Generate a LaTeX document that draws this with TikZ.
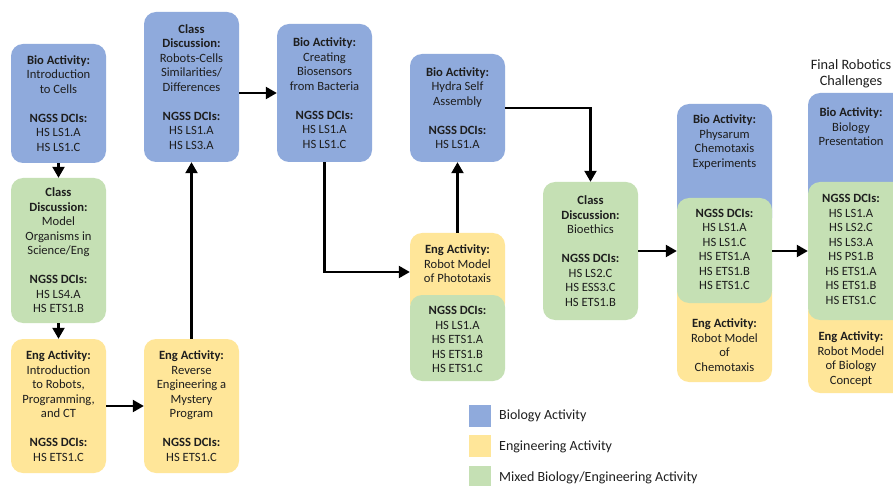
\documentclass[tikz,border=0pt]{standalone}
\usepackage{fontspec}
\setmainfont{Carlito}
\usetikzlibrary{arrows.meta}
\definecolor{bioc}{HTML}{8FAADC}
\definecolor{engc}{HTML}{FFE699}
\definecolor{mixc}{HTML}{C5E0B4}
\definecolor{txtc}{HTML}{1E1E1E}
\tikzset{
  box/.style={rounded corners=12pt, inner sep=0pt, minimum width=95pt, align=center, text=txtc, font=\fontsize{12.6}{14.5}\selectfont},
  layer/.style={rounded corners=12pt},
  txt/.style={inner sep=0pt, align=center, text=txtc, font=\fontsize{12.6}{14.5}\selectfont},
  ghost/.style={inner sep=0pt, minimum width=95pt},
  conn/.style={line width=2.2pt, -{Triangle[length=11pt,width=12pt]}},
  legsq/.style={inner sep=0pt, minimum width=22pt, minimum height=22pt},
  legtxt/.style={inner sep=0pt, anchor=west, text=txtc, font=\fontsize{14}{16}\selectfont}
}
\begin{document}
\begin{tikzpicture}[x=1pt,y=-1pt]
\useasboundingbox (0,0) rectangle (893,486);
\clip (0,0) rectangle (893,486);
\fill[white] (0,0) rectangle (893,486);

% column 1
\node[box, fill=bioc, minimum height=119pt] (b1) at (58.5,103.5)
  {\textbf{Bio Activity:}\\Introduction\\to Cells\\[14.5pt]\textbf{NGSS DCIs:}\\HS LS1.A\\HS LS1.C};
\node[box, fill=mixc, minimum height=145pt] (b2) at (58.5,250.5)
  {\textbf{Class}\\\textbf{Discussion:}\\Model\\Organisms in\\Science/Eng\\[14.5pt]\textbf{NGSS DCIs:}\\HS LS4.A\\HS ETS1.B};
\node[box, fill=engc, minimum height=134pt] (b3) at (58.5,406)
  {\textbf{Eng Activity:}\\Introduction\\to Robots,\\Programming,\\and CT\\[14.5pt]\textbf{NGSS DCIs:}\\HS ETS1.C};

% column 2
\node[box, fill=engc, minimum height=134pt] (b4) at (191.5,406)
  {\textbf{Eng Activity:}\\Reverse\\Engineering a\\Mystery\\Program\\[14.5pt]\textbf{NGSS DCIs:}\\HS ETS1.C};
\node[box, fill=bioc, minimum height=150pt] (b5) at (191.5,87)
  {\textbf{Class}\\\textbf{Discussion:}\\Robots-Cells\\Similarities/\\Differences\\[14.5pt]\textbf{NGSS DCIs:}\\HS LS1.A\\HS LS3.A};

% column 3
\node[box, fill=bioc, minimum height=138pt] (b6) at (324.5,93)
  {\textbf{Bio Activity:}\\Creating\\Biosensors\\from Bacteria\\[14.5pt]\textbf{NGSS DCIs:}\\HS LS1.A\\HS LS1.C};

% column 4
\node[box, fill=bioc, minimum height=108pt] (b8) at (457.5,108)
  {\textbf{Bio Activity:}\\Hydra Self\\Assembly\\[14.5pt]\textbf{NGSS DCIs:}\\HS LS1.A};
\node[ghost, minimum height=148pt] (b7) at (457.5,307) {};
\fill[engc, layer] (410,233) rectangle (505,315);
\fill[mixc, layer] (410,295) rectangle (505,381);
\node[txt] (b7t1) at (457.5,264) {\textbf{Eng Activity:}\\Robot Model\\of Phototaxis};
\node[txt] (b7t2) at (457.5,339.5) {\textbf{NGSS DCIs:}\\HS LS1.A\\HS ETS1.A\\HS ETS1.B\\HS ETS1.C};

% column 5
\node[box, fill=mixc, minimum height=138pt] (b9) at (590.5,251)
  {\textbf{Class}\\\textbf{Discussion:}\\Bioethics\\[14.5pt]\textbf{NGSS DCIs:}\\HS LS2.C\\HS ESS3.C\\HS ETS1.B};

% column 6
\node[ghost, minimum height=278pt] (b10) at (724.5,243) {};
\fill[bioc, layer] (677,104) rectangle (772,230);
\fill[engc, layer] (677,280) rectangle (772,382);
\fill[mixc, layer] (677,198) rectangle (772,303);
\node[txt] (b10t1) at (724.5,142) {\textbf{Bio Activity:}\\Physarum\\Chemotaxis\\Experiments};
\node[txt] (b10t2) at (724.5,249.5) {\textbf{NGSS DCIs:}\\HS LS1.A\\HS LS1.C\\HS ETS1.A\\HS ETS1.B\\HS ETS1.C};
\node[txt] (b10t3) at (724.5,345) {\textbf{Eng Activity:}\\Robot Model\\of\\Chemotaxis};

% column 7
\node[txt, font=\fontsize{14.3}{16}\selectfont] (title) at (851,74) {Final Robotics\\Challenges};
\node[ghost, minimum height=300pt] (b11) at (855.5,243) {};
\fill[bioc, layer] (808,93) rectangle (905,210);
\fill[engc, layer] (808,300) rectangle (905,393);
\fill[mixc, layer] (808,182) rectangle (905,320);
\node[txt] (b11t1) at (851,127) {\textbf{Bio Activity:}\\Biology\\Presentation};
\node[txt] (b11t2) at (851,249.5) {\textbf{NGSS DCIs:}\\HS LS1.A\\HS LS2.C\\HS LS3.A\\HS PS1.B\\HS ETS1.A\\HS ETS1.B\\HS ETS1.C};
\node[txt] (b11t3) at (851,359) {\textbf{Eng Activity:}\\Robot Model\\of Biology\\Concept};

% connectors
\draw[conn] (b1.south) -- (b2.north);
\draw[conn] (b2.south) -- (b3.north);
\draw[conn] (b3.east) -- (b4.west);
\draw[conn] (b4.north) -- (b5.south);
\draw[conn] (b5.east |- b6.west) -- (b6.west);
\draw[conn] (b6.south) |- ([yshift=35pt]b7.west);
\draw[conn] (b7.north) -- (b8.south);
\draw[conn] (b8.east) -| (b9.north);
\draw[conn] (b9.east) -- (b9.east -| b10.west);
\draw[conn] (b9.east -| b10.east) -- (b9.east -| b11.west);

% legend
\node[legsq, fill=bioc] (l1) at (480,415.5) {};
\node[legsq, fill=engc] (l2) at (480,446) {};
\node[legsq, fill=mixc] (l3) at (480,477) {};
\node[legtxt] (l1t) at (499,416) {Biology Activity};
\node[legtxt] (l2t) at (499,447) {Engineering Activity};
\node[legtxt] (l3t) at (499,478) {Mixed Biology/Engineering Activity};
\end{tikzpicture}
\end{document}
